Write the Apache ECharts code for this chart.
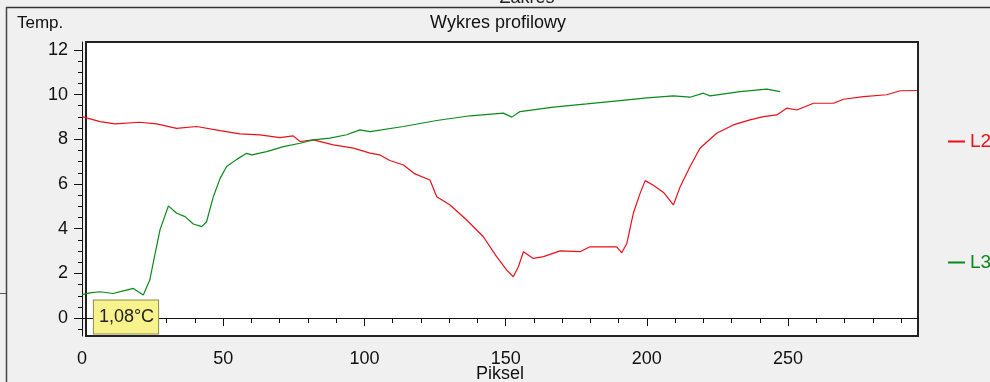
<!DOCTYPE html>
<html lang="pl">
<head>
    <meta charset="UTF-8">
    <title>Wykres profilowy</title>
    <style>
        html, body {
            margin: 0;
            background: #f0f0f0;
        }

        #chart {
            width: 990px;
            height: 382px;
        }
    </style>
</head>
<body>
    <div id="chart"></div>

    <script src="https://cdn.jsdelivr.net/npm/echarts@6/dist/echarts.min.js"></script>
    <script>
        // dane (Piksel -> Temp.)
        var l2X = [0, 6.4, 11.7, 20.5, 26.4, 33.5, 40.6, 48.9, 55.9, 63, 70.1, 74.8, 77.2, 81.9, 89, 96.1, 102,
            105.5, 109, 113.8, 117.9, 123.2, 125.6, 130.3, 136.2, 142.1, 146.8, 150.4, 152.7, 154.5, 156.3, 159.8,
            163.4, 169.3, 176.3, 179.9, 189.3, 191.1, 192.9, 195.2, 197.6, 199.4, 202.3, 205.9, 209.4, 211.8,
            215.3, 218.8, 224.7, 230.6, 236.5, 241.3, 246, 249.5, 253.1, 259, 266.1, 269.6, 276.7, 284.9, 289.7, 295.6];
        var l2Y = [9.01, 8.79, 8.69, 8.76, 8.69, 8.49, 8.57, 8.39, 8.24, 8.2, 8.07, 8.15, 7.9, 7.97, 7.75, 7.6, 7.38,
            7.3, 7.05, 6.85, 6.45, 6.18, 5.43, 5.06, 4.39, 3.64, 2.75, 2.15, 1.85, 2.3, 2.97, 2.67,
            2.75, 3.01, 2.97, 3.19, 3.19, 2.92, 3.34, 4.69, 5.58, 6.15, 5.94, 5.62, 5.06, 5.88,
            6.78, 7.6, 8.27, 8.64, 8.87, 9.01, 9.09, 9.39, 9.31, 9.61, 9.61, 9.79, 9.91, 9.99, 10.17, 10.18];

        var l3X = [0, 2.8, 6.4, 11, 14.6, 18.2, 21.7, 24, 25.9, 27.6, 30.6, 33.5, 36.5, 39.4, 42.4, 44.1, 46.5, 48.9,
            51.2, 54.8, 58.3, 60.1, 65.4, 71.3, 77.2, 81.9, 87.8, 93.7, 98.4, 102, 113.8, 125.6, 137.4, 149.2,
            152.2, 155.1, 166.9, 178.7, 190.5, 200, 209.4, 215.3, 220, 222.4, 233, 242.4, 247.2];
        var l3Y = [1.05, 1.13, 1.18, 1.1, 1.22, 1.33, 1.03, 1.7, 2.9, 3.94, 5.02, 4.69, 4.54, 4.21, 4.09, 4.31, 5.43, 6.25,
            6.78, 7.1, 7.37, 7.3, 7.45, 7.67, 7.82, 7.97, 8.05, 8.2, 8.42, 8.34, 8.57, 8.84, 9.05, 9.17,
            8.99, 9.24, 9.44, 9.58, 9.73, 9.85, 9.94, 9.88, 10.06, 9.94, 10.13, 10.24, 10.13];

        var xLabels = [0, 50, 100, 150, 200, 250];
        var xMinor = [10, 20, 30, 40, 60, 70, 80, 90, 110, 120, 130, 140, 160, 170, 180, 190, 210, 220, 230, 240, 260, 270, 280, 290];
        var yLabels = [0, 2, 4, 6, 8, 10, 12];
        var yMinor = [-0.5, 0.5, 1, 1.5, 2.5, 3, 3.5, 4.5, 5, 5.5, 6.5, 7, 7.5, 8.5, 9, 9.5, 10.5, 11, 11.5];

        var RED = '#ea0f1a';
        var GREEN = '#0a8a1a';
        var FONT = '"Liberation Sans", Arial, sans-serif';

        function pairs(xs, ys) {
            return xs.map(function(x, i) { return [x, ys[i]]; });
        }

        var myChart = echarts.init(document.getElementById('chart'), null, { renderer: 'canvas' });

        var axisText = { color: '#111', fontSize: 18, fontFamily: FONT };

        var option = {
            animation: false,
            backgroundColor: '#f0f0f0',
            grid: {
                left: 82,
                right: 72,
                top: 42,
                bottom: 46,
                outerBoundsMode: 'none',
                containLabel: false
            },
            legend: {
                orient: 'vertical',
                left: 943,
                top: 127,
                itemWidth: 17,
                itemHeight: 2,
                itemGap: 102,
                icon: 'rect',
                textStyle: { fontSize: 19, fontFamily: FONT },
                data: [
                    { name: 'L2', textStyle: { color: RED } },
                    { name: 'L3', textStyle: { color: GREEN } }
                ]
            },
            xAxis: [{
                type: 'value',
                position: 'bottom',
                min: 0,
                max: 296,
                interval: 50,
                name: 'Piksel',
                nameLocation: 'middle',
                nameGap: 29,
                nameMoveOverlap: false,
                nameTextStyle: axisText,
                splitLine: { show: false },
                axisLine: { lineStyle: { color: '#111', width: 1 } },
                axisTick: { customValues: xLabels, length: 8, lineStyle: { color: '#111' } },
                axisLabel: Object.assign({ customValues: xLabels, margin: 14 }, axisText)
            }, {
                // drobne podziałki co 10
                type: 'value',
                position: 'bottom',
                min: 0,
                max: 296,
                splitLine: { show: false },
                axisLine: { show: false },
                axisTick: { customValues: xMinor, length: 5, lineStyle: { color: '#111' } },
                axisLabel: { show: false }
            }],
            yAxis: [{
                type: 'value',
                position: 'left',
                min: -0.8,
                max: 12.35,
                offset: 2,
                splitLine: { show: false },
                axisLine: { show: true, lineStyle: { color: '#111', width: 1 } },
                axisTick: { customValues: yLabels, length: 8, lineStyle: { color: '#111' } },
                axisLabel: Object.assign({ customValues: yLabels, margin: 12 }, axisText)
            }, {
                type: 'value',
                position: 'left',
                min: -0.8,
                max: 12.35,
                offset: 2,
                splitLine: { show: false },
                axisLine: { show: false },
                axisTick: { customValues: yMinor, length: 4, lineStyle: { color: '#111' } },
                axisLabel: { show: false }
            }],
            graphic: [
                // ramka okna
                { type: 'line', shape: { x1: 6, y1: 7.5, x2: 990, y2: 7.5 }, style: { stroke: '#333', lineWidth: 1.5 }, z: 0 },
                { type: 'line', shape: { x1: 6.5, y1: 7, x2: 6.5, y2: 382 }, style: { stroke: '#444', lineWidth: 1.5 }, z: 0 },
                { type: 'line', shape: { x1: 0, y1: 293.5, x2: 6, y2: 293.5 }, style: { stroke: '#555', lineWidth: 1 }, z: 0 },
                { type: 'text', x: 527, y: -11, style: { text: 'Zakres', font: '18px ' + FONT, fill: '#222', align: 'center' }, z: 0 },
                { type: 'text', x: 498, y: 23, style: { text: 'Wykres profilowy', font: '18px ' + FONT, fill: '#111', align: 'center', verticalAlign: 'middle' }, z: 0 },
                { type: 'text', x: 17, y: 23, style: { text: 'Temp.', font: '17px ' + FONT, fill: '#111', align: 'left', verticalAlign: 'middle' }, z: 0 },
                // pole wykresu
                { type: 'rect', shape: { x: 86, y: 42, width: 832, height: 294 }, style: { fill: '#fff', stroke: '#222', lineWidth: 2 }, z: -1 },
                // etykieta kursora
                {
                    type: 'text', x: 126, y: 317, z: 10,
                    style: {
                        text: '1,08°C', font: '18px ' + FONT, fill: '#222', align: 'center', verticalAlign: 'middle',
                        backgroundColor: '#f8f28c', borderColor: '#8a8a50', borderWidth: 1, padding: [8, 4, 7, 5]
                    }
                }
            ],
            series: [{
                name: 'L2',
                type: 'line',
                color: RED,
                showSymbol: false,
                lineStyle: { width: 1.2, color: RED },
                data: pairs(l2X, l2Y)
            }, {
                name: 'L3',
                type: 'line',
                color: GREEN,
                showSymbol: false,
                lineStyle: { width: 1.2, color: GREEN },
                data: pairs(l3X, l3Y)
            }]
        };

        myChart.setOption(option);
    </script>
</body>
</html>
